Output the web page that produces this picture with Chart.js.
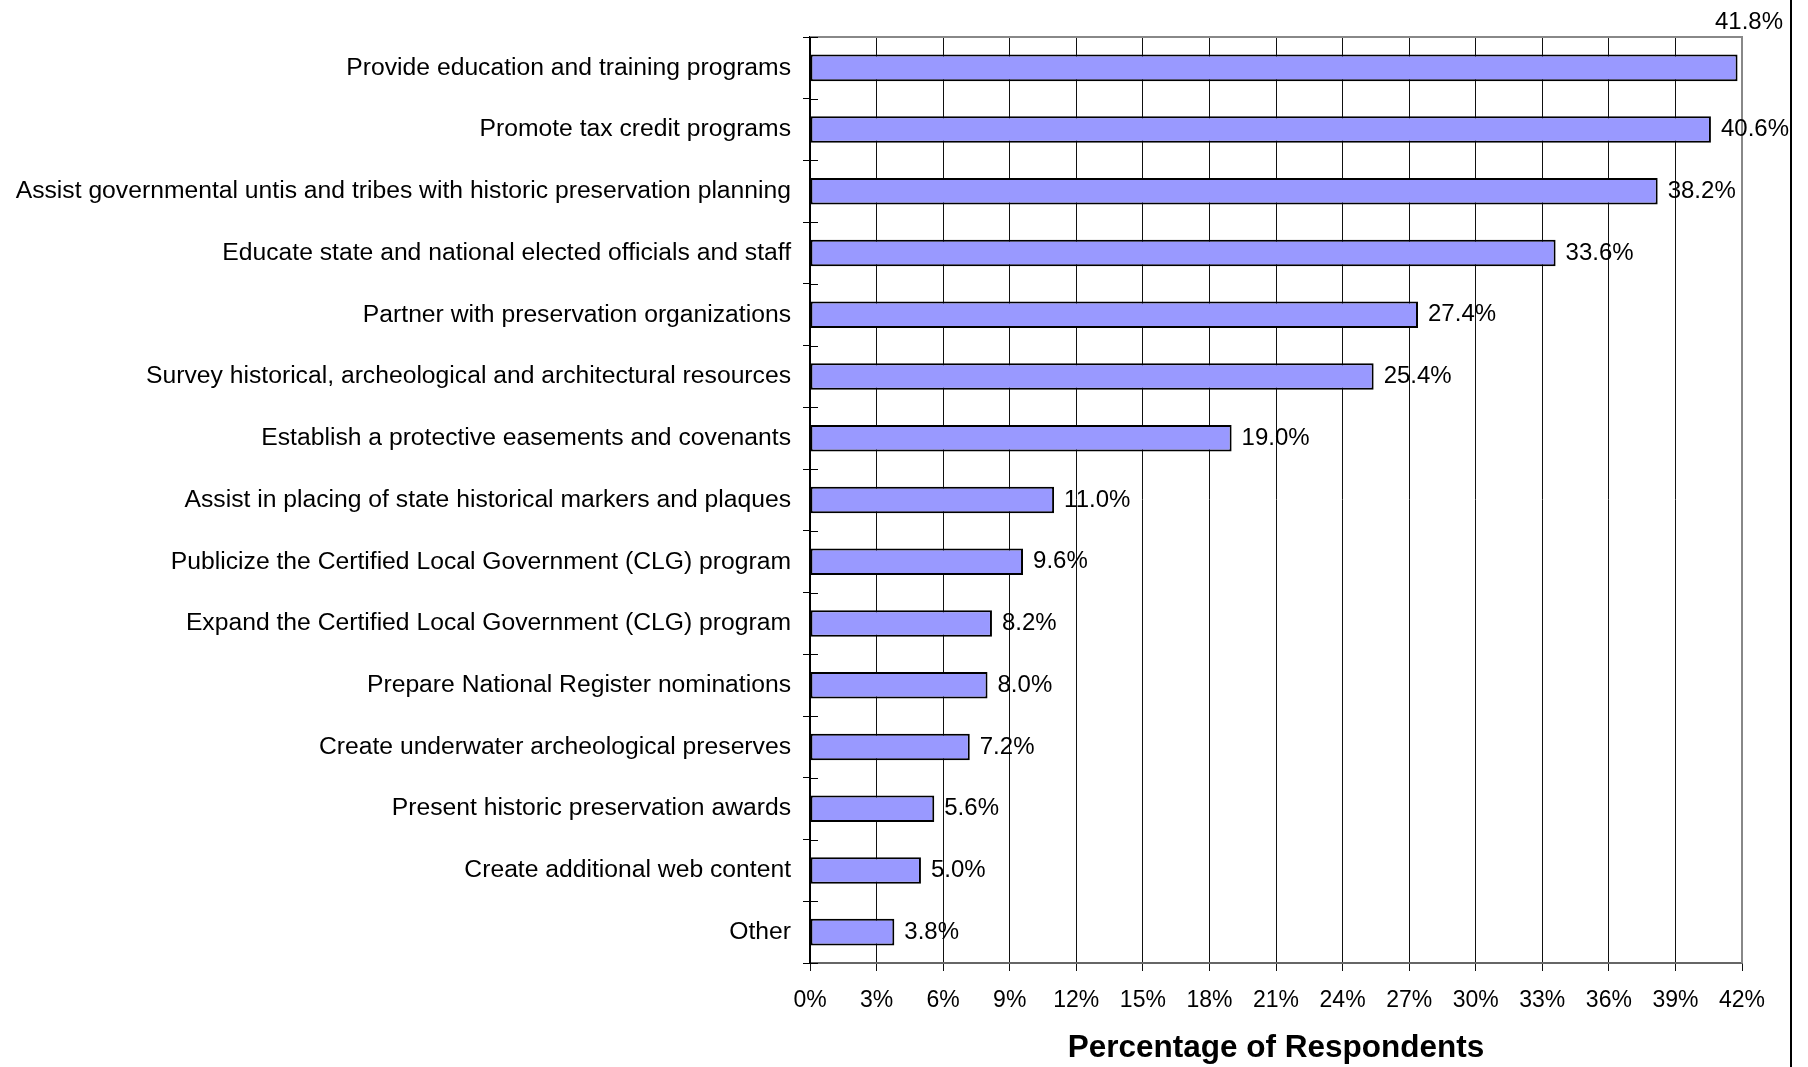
<!DOCTYPE html>
<html>
<head>
<meta charset="utf-8">
<script src="https://cdn.jsdelivr.net/npm/chart.js@4.4.1/dist/chart.umd.min.js"></script>
<style>
  html, body { margin: 0; padding: 0; background: #fff; }
  #wrap { position: relative; width: 1808px; height: 1067px; overflow: hidden; }
  #edge { position: absolute; left: 1790px; top: 0; width: 2px; height: 1067px; background: #000; }
</style>
</head>
<body>
<div id="wrap">
  <canvas id="c" width="1808" height="1067"></canvas>
  <div id="edge"></div>
</div>
<script>
const categories = [
  "Provide education and training programs",
  "Promote tax credit programs",
  "Assist governmental untis and tribes with historic preservation planning",
  "Educate state and national elected officials and staff",
  "Partner with preservation organizations",
  "Survey historical, archeological and architectural resources",
  "Establish a protective easements and covenants",
  "Assist in placing of state historical markers and plaques",
  "Publicize the Certified Local Government (CLG) program",
  "Expand the Certified Local Government (CLG) program",
  "Prepare National Register nominations",
  "Create underwater archeological preserves",
  "Present historic preservation awards",
  "Create additional web content",
  "Other"
];
const percentages = [41.8, 40.6, 38.2, 33.6, 27.4, 25.4, 19.0, 11.0, 9.6, 8.2, 8.0, 7.2, 5.6, 5.0, 3.8];
const xAxisTitle = "Percentage of Respondents";
const xMin = 0, xMax = 42, xStep = 3;

const FONT = "'Liberation Sans', Arial, sans-serif";

const framePlugin = {
  id: 'frame',
  beforeDatasetsDraw(chart) {
    const {ctx, chartArea: a} = chart;
    const ys = chart.scales.y;
    ctx.save();
    ctx.strokeStyle = '#888';
    ctx.lineWidth = 2;
    ctx.beginPath();
    ctx.moveTo(a.left, a.top);
    ctx.lineTo(a.right, a.top);
    ctx.lineTo(a.right, a.bottom);
    ctx.stroke();
    // inner half of the category tick marks (they cross the axis)
    ctx.strokeStyle = '#000';
    ctx.lineWidth = 1;
    const n = categories.length;
    const step = (ys.getPixelForValue(1) - ys.getPixelForValue(0));
    ctx.beginPath();
    for (let i = 0; i <= n; i++) {
      const y = Math.round(ys.getPixelForValue(i) - step / 2) + 0.5;
      ctx.moveTo(a.left, y);
      ctx.lineTo(a.left + 8, y);
    }
    ctx.stroke();
    ctx.restore();
  }
};

const valueLabels = {
  id: 'valueLabels',
  afterDatasetsDraw(chart) {
    const {ctx, chartArea: a} = chart;
    const meta = chart.getDatasetMeta(0);
    ctx.save();
    ctx.font = '24px ' + FONT;
    ctx.fillStyle = '#000';
    ctx.textBaseline = 'middle';
    meta.data.forEach((bar, i) => {
      const txt = percentages[i].toFixed(1) + '%';
      const w = ctx.measureText(txt).width;
      const x = bar.x + 10;
      if (x + w > chart.width) {
        ctx.textAlign = 'right';
        ctx.fillText(txt, 1783, a.top - 15);
      } else {
        ctx.textAlign = 'left';
        ctx.fillText(txt, x, bar.y);
      }
    });
    ctx.restore();
  }
};

new Chart(document.getElementById('c'), {
  type: 'bar',
  data: {
    labels: categories,
    datasets: [{
      data: percentages,
      backgroundColor: '#9999FF',
      borderColor: '#000',
      borderWidth: 2,
      borderSkipped: false,
      barPercentage: 0.43,
      categoryPercentage: 1.0
    }]
  },
  options: {
    indexAxis: 'y',
    responsive: false,
    animation: false,
    devicePixelRatio: 1,
    layout: { padding: { top: 37, right: 66, left: 0, bottom: 0 } },
    plugins: { legend: { display: false }, tooltip: { enabled: false } },
    scales: {
      x: {
        min: xMin, max: xMax,
        ticks: {
          stepSize: xStep,
          autoSkip: false,
          maxRotation: 0,
          padding: 16,
          color: '#000',
          font: { family: FONT, size: 23 },
          callback: v => v + '%'
        },
        grid: { color: '#111', lineWidth: 1, tickLength: 8, drawOnChartArea: true },
        border: { color: '#666', width: 2 },
        title: {
          display: true,
          text: xAxisTitle,
          color: '#000',
          font: { family: FONT, size: 31.5, weight: 'bold' },
          padding: { top: 14, bottom: 0 }
        },
        afterFit(scale) { scale.height = 104; }
      },
      y: {
        ticks: {
          autoSkip: false,
          padding: 12,
          color: '#000',
          font: { family: FONT, size: 24.7 }
        },
        grid: { drawOnChartArea: false, tickLength: 7, color: '#000', offset: true },
        border: { color: '#000', width: 2 },
        afterFit(scale) { scale.width = 810; }
      }
    }
  },
  plugins: [framePlugin, valueLabels]
});
</script>
</body>
</html>
